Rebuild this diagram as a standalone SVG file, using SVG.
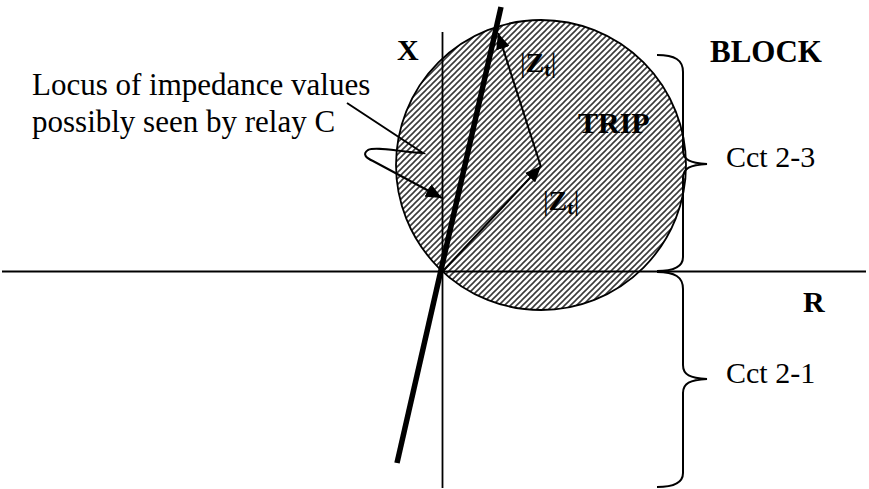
<svg xmlns="http://www.w3.org/2000/svg" width="869" height="489" viewBox="0 0 869 489">
<style>
.t{font-family:"Liberation Serif","Times New Roman",serif;fill:#000}
.b{font-weight:bold}
.ln{stroke:#000;fill:none}
</style>
<defs>
<pattern id="hatch" width="6" height="6" patternUnits="userSpaceOnUse">
<rect width="6" height="6" fill="#fff"/>
<path d="M-1,1 L1,-1 M0,6 L6,0 M5,7 L7,5" stroke="#3a3a3a" stroke-width="1.6"/>
</pattern>
<marker id="ah" markerUnits="userSpaceOnUse" markerWidth="18" markerHeight="14" refX="16" refY="7" orient="auto">
<path d="M0,0 L16,7 L0,14 Z" fill="#000"/>
</marker>
</defs>
<rect width="869" height="489" fill="#fff"/>
<g id="trip-circle">
<circle cx="541" cy="165" r="145" fill="url(#hatch)" stroke="#000" stroke-width="1.8"/>
<text class="t b" x="578" y="133" font-size="30">TRIP</text>
</g>
<g id="axes">
<line class="ln" x1="2" y1="271.5" x2="866" y2="271.5" stroke-width="1.8"/>
<line class="ln" x1="442.5" y1="32" x2="442.5" y2="488" stroke-width="1.8"/>
<text class="t b" x="397" y="60" font-size="30">X</text>
<text class="t b" x="803" y="312" font-size="30">R</text>
</g>
<g id="relay-line">
<line class="ln" x1="501" y1="7" x2="397" y2="463" stroke-width="5.5"/>
</g>
<g id="connectors">
<line class="ln" x1="443" y1="271" x2="541" y2="166" stroke-width="2" marker-end="url(#ah)"/>
<line class="ln" x1="541" y1="167" x2="498" y2="33" stroke-width="2" marker-end="url(#ah)"/>
<path class="ln" d="M347,103 L423,153 C400,152 376,146 368,150 C362,154 366,158 373,161 L442,198" stroke-width="2" marker-end="url(#ah)"/>
</g>
<g id="zt-labels">
<text class="t" x="520" y="72" font-size="28">|<tspan class="b">Z</tspan><tspan class="b" font-size="19" dy="4">t</tspan><tspan dy="-4">|</tspan></text>
<text class="t" x="543" y="210" font-size="28">|<tspan class="b">Z</tspan><tspan class="b" font-size="19" dy="4">t</tspan><tspan dy="-4">|</tspan></text>
</g>
<g id="locus-label">
<text class="t" x="32" y="95" font-size="31">Locus of impedance values</text>
<text class="t" x="32" y="132" font-size="31">possibly seen by relay C</text>
</g>
<g id="brace-block">
<path class="ln" stroke-width="2" d="M657,55 C675,55 683,60 683,72 L683,150 C683,160 690,163 707,164 C690,165 683,168 683,178 L683,257 C683,266 675,271 657,271"/>
<text class="t b" x="710" y="62" font-size="31">BLOCK</text>
<text class="t" x="726" y="167" font-size="30">Cct 2-3</text>
</g>
<g id="brace-r">
<path class="ln" stroke-width="2" d="M657,272 C675,272 683,277 683,289 L683,365 C683,375 690,378 707,379 C690,380 683,383 683,393 L683,473 C683,482 675,487 657,487"/>
<text class="t" x="726" y="383" font-size="30">Cct 2-1</text>
</g>
</svg>
